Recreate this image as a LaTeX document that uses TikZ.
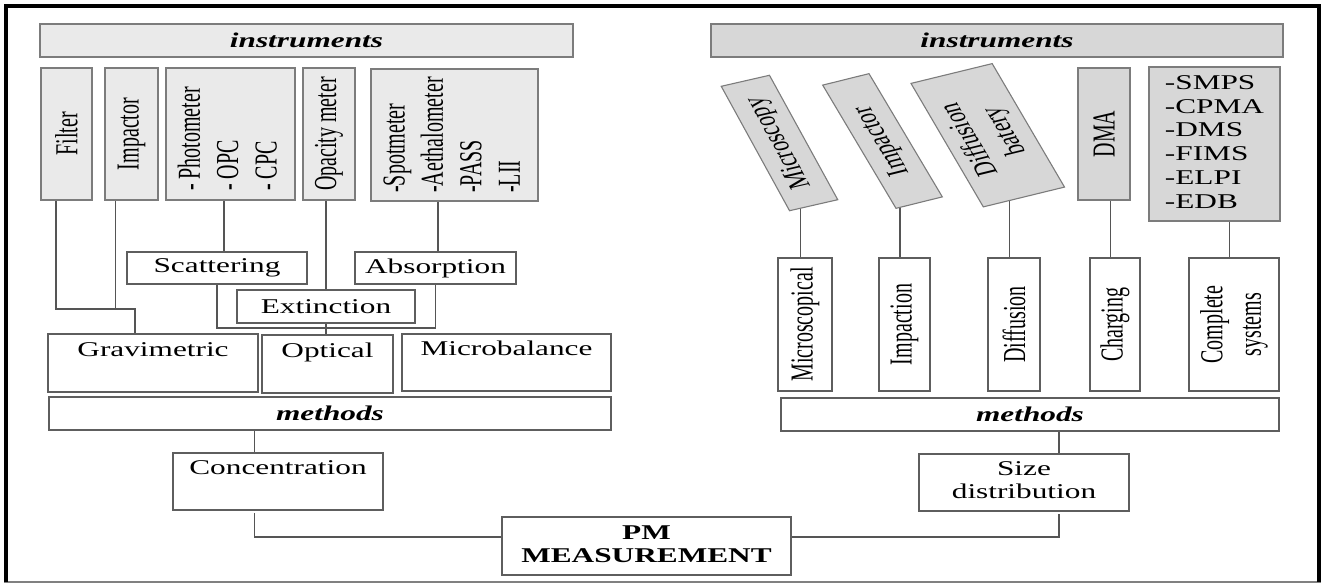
\documentclass[tikz,border=0pt]{standalone}
\usepackage{fontspec}
\setmainfont{Liberation Serif}
\usepackage{graphicx}
\usetikzlibrary{backgrounds}
\newcommand{\hs}[1]{\scalebox{1.49}[1]{#1}}
\newcommand{\vsx}[1]{\scalebox{1.6}[1]{\rotatebox{90}{#1}}}
\definecolor{lgray}{HTML}{EAEAEA}
\definecolor{dgray}{HTML}{D7D7D7}
\definecolor{bord}{HTML}{7C7C7C}
\definecolor{wbord}{HTML}{5E5E5E}
\definecolor{conncol}{HTML}{555555}
\tikzset{
  box/.style={draw=bord, line width=1.1pt, inner sep=0pt, outer sep=0pt, text=black},
  gbox/.style={box, fill=lgray},
  dbox/.style={box, fill=dgray},
  wbox/.style={box, draw=wbord, fill=white},
  hf/.style={font=\fontsize{21}{23}\selectfont},
  vf/.style={font=\fontsize{20}{24}\selectfont},
  conn/.style={draw=conncol, line width=1.1pt},
}
\begin{document}
\begin{tikzpicture}[x=1pt,y=-1pt]
\useasboundingbox (0,0) rectangle (1326,583);

% ---------------- left: instruments
\node[gbox, minimum width=533, minimum height=33, hf] (instL) at (306.5,40.5) {\hs{\textbf{\textit{instruments}}}};
\node[gbox, minimum width=51, minimum height=132, vf] (filter) at (66.5,134) {\vsx{Filter}};
\node[gbox, minimum width=53, minimum height=132, vf] (impL) at (131.5,134) {\vsx{Impactor}};
\node[gbox, minimum width=129, minimum height=132, vf] (photo) at (230.5,134) {\vsx{\begin{tabular}{@{}l@{}}- Photometer\\- OPC\\- CPC\end{tabular}\hspace*{10pt}}};
\node[gbox, minimum width=52, minimum height=132, vf] (opac) at (329,134) {\vsx{Opacity meter}};
\node[gbox, minimum width=167, minimum height=132, vf] (spot) at (454.5,135) {\vsx{\begin{tabular}{@{}l@{}}-Spotmeter\\-Aethalometer\\-PASS\\-LII\end{tabular}}};

% ---------------- left: methods
\node[wbox, minimum width=180, minimum height=32, hf] (scat) at (217,268) {\hs{Scattering}};
\node[wbox, minimum width=161, minimum height=32, hf] (absn) at (435.5,268) {\hs{Absorption}};
\node[wbox, minimum width=178, minimum height=33, hf] (ext) at (326,306.5) {\hs{Extinction}};
\node[wbox, minimum width=210, minimum height=58, hf] (grav) at (153,363) {\hs{\begin{tabular}{@{}c@{}}Gravimetric\\ ~\end{tabular}}};
\node[wbox, minimum width=131, minimum height=58, hf] (opt) at (327.5,364) {\hs{\begin{tabular}{@{}c@{}}Optical\\ ~\end{tabular}}};
\node[wbox, minimum width=209, minimum height=57, hf] (mbal) at (506.5,362.5) {\hs{\begin{tabular}{@{}c@{}}Microbalance\\ ~\end{tabular}}};
\node[wbox, minimum width=562, minimum height=33, hf] (methL) at (330,413.5) {\hs{\textbf{\textit{methods}}}};
\node[wbox, minimum width=210, minimum height=57, hf] (conc) at (278,481.5) {\hs{\begin{tabular}{@{}c@{}}Concentration\\ ~\end{tabular}}};

% ---------------- centre
\node[wbox, minimum width=289, minimum height=58, hf] (pm) at (646.5,546) {\hs{\bfseries\begin{tabular}{@{}c@{}}PM\\MEASUREMENT\end{tabular}}};

% ---------------- right: instruments
\node[dbox, minimum width=572, minimum height=33, hf] (instR) at (997,40.5) {\hs{\textbf{\textit{instruments}}}};
\begin{scope}[shift={(779.5,143)}, xscale=1.55, rotate=19.5]
  \node[dbox, transform shape, minimum width=33, minimum height=132, vf] (micro) at (0,0) {\rotatebox{90}{Microscopy}};
\end{scope}
\begin{scope}[shift={(882.5,141)}, xscale=1.55, rotate=21]
  \node[dbox, transform shape, minimum width=32, minimum height=132, vf] (impR) at (0,0) {\rotatebox{90}{Impactor}};
\end{scope}
\begin{scope}[shift={(987.75,135.25)}, xscale=1.55, rotate=20.7]
  \node[dbox, transform shape, minimum width=56, minimum height=132, vf] (dbat) at (0,0) {\rotatebox{90}{\begin{tabular}{@{}c@{}}Diffusion\\batery\end{tabular}}};
\end{scope}
\node[dbox, minimum width=52, minimum height=132, vf] (dma) at (1104,134) {\vsx{DMA}};
\node[dbox, minimum width=131, minimum height=154, font=\fontsize{21}{23.8}\selectfont] (smps) at (1214.5,144) {\hs{\begin{tabular}{@{}l@{}}-SMPS\\-CPMA\\-DMS\\-FIMS\\-ELPI\\-EDB\end{tabular}}};

% ---------------- right: methods
\node[wbox, minimum width=54, minimum height=133, vf] (mscal) at (805,324.5) {\vsx{Microscopical}};
\node[wbox, minimum width=51, minimum height=133, vf] (impn) at (904.5,324.5) {\vsx{Impaction}};
\node[wbox, minimum width=52, minimum height=133, vf] (diffn) at (1014,324.5) {\vsx{Diffusion}};
\node[wbox, minimum width=50, minimum height=133, vf] (chg) at (1115,324.5) {\vsx{Charging}};
\node[wbox, minimum width=90, minimum height=133, vf] (cmpl) at (1234,324.5) {\vsx{\begin{tabular}{@{}c@{}}Complete\\systems\end{tabular}}};
\node[wbox, minimum width=498, minimum height=33, hf] (methR) at (1030,414.5) {\hs{\textbf{\textit{methods}}}};
\node[wbox, minimum width=210, minimum height=57, hf] (sized) at (1024,482.5) {\hs{\begin{tabular}{@{}c@{}}Size\\distribution\end{tabular}}};

\coordinate (gj) at (135,309);

\begin{pgfonlayer}{background}
  % left side
  \draw[conn] ([xshift=-10.5pt]filter.south) |- (gj) -- ([xshift=-18pt]grav.north);
  \draw[conn] ([xshift=-16pt]impL.south) -- ([xshift=-16pt]impL.south |- gj);
  \draw[conn] ([xshift=-6.5pt]photo.south) -- ([xshift=-6.5pt]photo.south |- scat.north);
  \draw[conn] ([xshift=-3pt]opac.south) -- ([xshift=-3pt]opac.south |- ext.north);
  \draw[conn] ([xshift=-16.5pt]spot.south) -- ([xshift=-16.5pt]spot.south |- absn.north);
  \draw[conn] (scat.south) -- ++(0,44) -| (absn.south);
  \draw[conn] (ext.south) -- (ext.south |- opt.north);
  \draw[conn] ([xshift=-23.5pt]conc.north) -- ([xshift=-23.5pt]conc.north |- methL.south);
  \draw[conn] ([xshift=-23.5pt,yshift=-3pt]conc.south) |- ([yshift=9pt]pm.west);
  % right side
  \draw[conn] ([xshift=-4.5pt]mscal.north) -- ([xshift=-4.5pt]mscal.north |- micro.center);
  \draw[conn] ([xshift=-4.5pt]impn.north) -- ([xshift=-4.5pt]impn.north |- impR.center);
  \draw[conn] ([xshift=-4.5pt]diffn.north) -- ([xshift=-4.5pt]diffn.north |- dbat.center);
  \draw[conn] ([xshift=-4.5pt]chg.north) -- ([xshift=-4.5pt]chg.north |- dma.south);
  \draw[conn] ([xshift=-4.5pt]cmpl.north) -- ([xshift=-4.5pt]cmpl.north |- smps.south);
  \draw[conn] ([xshift=35pt]sized.north) -- ([xshift=35pt]sized.north |- methR.south);
  \draw[conn] ([xshift=35pt,yshift=-3pt]sized.south) |- ([yshift=9pt]pm.east);
\end{pgfonlayer}

% frame
\draw[line width=1.2pt, draw=gray] (4,582) -- (1320.5,582);
\draw[line width=4pt, line join=miter] (6,582) -- (6,6.5) -- (1318.5,6.5) -- (1318.5,582);
\end{tikzpicture}
\end{document}
